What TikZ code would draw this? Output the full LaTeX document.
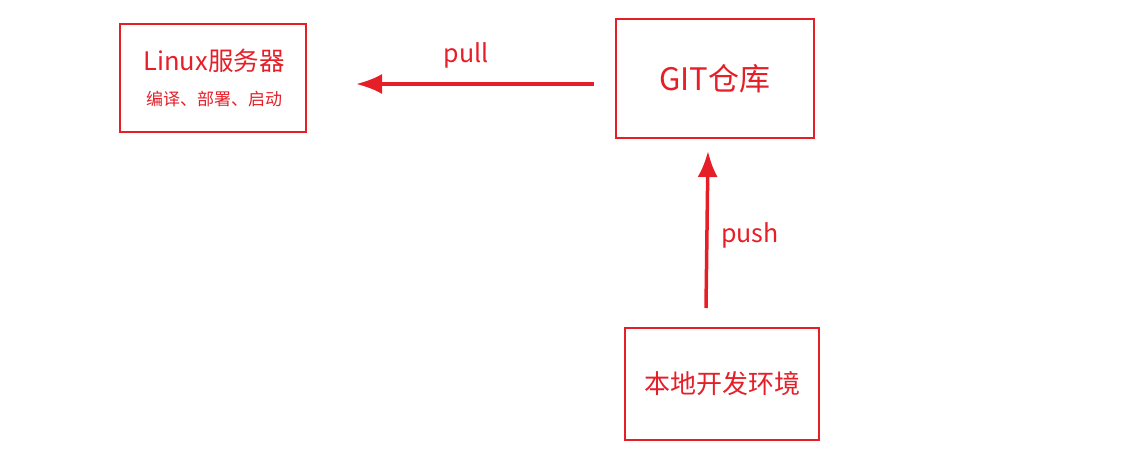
\documentclass[tikz,border=0pt]{standalone}
\usepackage{fontspec}
\setmainfont{Noto Sans CJK SC}
\usetikzlibrary{arrows.meta}
\definecolor{rd}{RGB}{230,30,40}
\tikzset{box/.style={draw=rd,line width=2.5pt,text=rd,inner sep=0pt},
 arr/.style={draw=rd,line width=3.5pt,-{Latex[length=26pt,width=20pt]}},
 lbl/.style={text=rd,font=\fontsize{25pt}{28pt}\selectfont}}
\begin{document}
\begin{tikzpicture}[x=1pt,y=-1pt]
\useasboundingbox (0,0) rectangle (1141,458);
\node[box,minimum width=186pt,minimum height=108pt] (lin) at (213,78) {};
\node[text=rd,font=\fontsize{25.5pt}{28pt}\selectfont] (lt) at (214,61) {Linux服务器};
\node[text=rd,font=\fontsize{17pt}{19pt}\selectfont] (ls) at (214,99) {编译、部署、启动};
\node[box,minimum width=198pt,minimum height=119pt,font=\fontsize{31pt}{34pt}\selectfont] (git) at (715,78.5) {GIT仓库};
\node[box,minimum width=194pt,minimum height=112pt,font=\fontsize{26pt}{30pt}\selectfont] (loc) at (722,384) {本地开发环境};
\coordinate (p1) at (594,84);
\coordinate (p2) at (356,84);
\coordinate (q1) at (706,308);
\coordinate (q2) at (708,151);
\draw[arr] (p1) -- (p2);
\draw[arr] (q1) -- (q2);
\node[lbl] (pl) at (466,55) {pull};
\node[lbl] (ph) at (750,235) {push};
\end{tikzpicture}
\end{document}
